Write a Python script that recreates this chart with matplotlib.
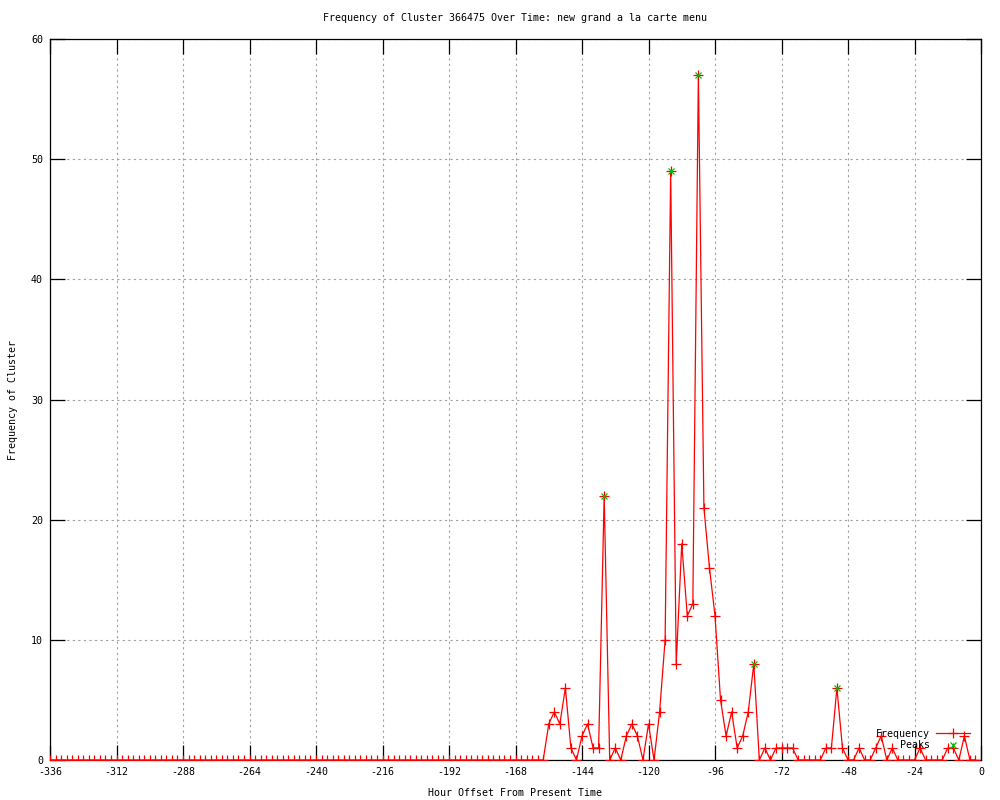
import matplotlib
matplotlib.use("Agg")
import matplotlib.pyplot as plt
from matplotlib.lines import Line2D
import numpy as np

# ---- data ----
hours = list(range(-336, -1, 2))  # -336 ... -2
nonzero = {
    -156: 3, -154: 4, -152: 3, -150: 6, -148: 1, -146: 0, -144: 2, -142: 3,
    -140: 1, -138: 1, -136: 22, -134: 0, -132: 1, -130: 0, -128: 2, -126: 3,
    -124: 2, -122: 0, -120: 3, -118: 0, -116: 4, -114: 10, -112: 49, -110: 8,
    -108: 18, -106: 12, -104: 13, -102: 57, -100: 21, -98: 16, -96: 12, -94: 5,
    -92: 2, -90: 4, -88: 1, -86: 2, -84: 4, -82: 8, -80: 0, -78: 1, -76: 0,
    -74: 1, -72: 1, -70: 1, -68: 1, -56: 1, -54: 1, -52: 6, -50: 1,
    -44: 1, -38: 1, -36: 2, -32: 1, -22: 1, -12: 1, -10: 1, -6: 2,
}
frequency = [nonzero.get(h, 0) for h in hours]

peak_hours = [-136, -112, -102, -82, -52]
peak_values = [22, 49, 57, 8, 6]

title = "Frequency of Cluster 366475 Over Time: new grand a la carte menu"
xlabel = "Hour Offset From Present Time"
ylabel = "Frequency of Cluster"
xticks = list(range(-336, 1, 24))
yticks = list(range(0, 61, 10))

# ---- style ----
FONT = "DejaVu Sans Mono"
FS = 7.2
RED = "#ff0000"
GREEN = "#00c000"

fig = plt.figure(figsize=(10, 8), dpi=100)
ax = fig.add_axes([0.050, 0.050, 0.931, 0.90125])

ax.plot(hours, frequency, color=RED, lw=0.9, marker="+", ms=6.5, mew=0.9,
        label="Frequency", zorder=3)
ax.plot(peak_hours, peak_values, ls="none", color=GREEN, marker="x", ms=5,
        mew=0.9, label="Peaks", zorder=4)

ax.set_xlim(-336, 0)
ax.set_ylim(0, 60)
ax.set_xticks(xticks)
ax.set_yticks(yticks)
ax.set_xticklabels([str(t) for t in xticks], fontfamily=FONT, fontsize=FS)
ax.set_yticklabels([str(t) for t in yticks], fontfamily=FONT, fontsize=FS)
ax.tick_params(axis="both", direction="in", length=11, width=0.9,
               top=True, right=True, pad=5, colors="black")
ax.grid(True, color="#a0a0a0", lw=0.8, ls=(0, (2, 3)))
ax.set_axisbelow(True)
for s in ax.spines.values():
    s.set_linewidth(0.9)
    s.set_color("black")

fig.text(0.515, 1 - 18 / 800, title, ha="center", va="center",
         fontfamily=FONT, fontsize=FS)
fig.text(0.515, 1 - 793 / 800, xlabel, ha="center", va="center",
         fontfamily=FONT, fontsize=FS)
fig.text(0.013, 0.5, ylabel, ha="center", va="center", rotation=90,
         fontfamily=FONT, fontsize=FS)

handles = [Line2D([], [], color=RED, lw=0.9, marker="+", ms=6.5, mew=0.9),
           Line2D([], [], color=GREEN, ls="none", marker="x", ms=5, mew=0.9)]
leg = ax.legend(handles, ["Frequency", "Peaks"], loc="lower right",
                bbox_to_anchor=(0.996, 0.004), frameon=False,
                markerfirst=False, handlelength=3.4, handletextpad=0.6,
                labelspacing=0.15, borderpad=0.2,
                prop={"family": FONT, "size": FS})

fig.savefig("out.png", dpi=100)
